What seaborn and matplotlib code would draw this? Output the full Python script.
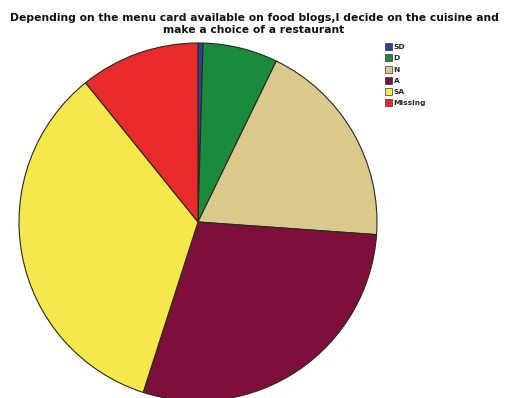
import matplotlib
matplotlib.use("Agg")
import matplotlib.pyplot as plt
import seaborn as sns
from matplotlib.patches import Patch

sns.set_theme(style="white")
plt.rcParams["font.family"] = ["DejaVu Sans"]

# Response counts per answer category
categories = ["SD", "D", "N", "A", "SA", "Missing"]
counts = [1, 15, 42, 64, 76, 24]
colors = ["#2a3f9e", "#1b8a3c", "#d9c98c", "#7d0f3a", "#f4e84c", "#e82a2a"]

title = ("Depending on the menu card available on food blogs,I decide on the cuisine and\n"
         "make a choice of a restaurant")

W, H = 508, 398
fig = plt.figure(figsize=(W / 100, H / 100), dpi=100)
fig.patch.set_facecolor("white")

# Pie centred at (198, 222) px with radius ~179 px
cx, cy, r = 198, 222, 179
ax = fig.add_axes([(cx - r) / W, (H - cy - r) / H, 2 * r / W, 2 * r / H])
ax.pie(counts, colors=colors, startangle=90, counterclock=False,
       wedgeprops=dict(edgecolor="#2a2a1a", linewidth=0.8), radius=1.0)
ax.set_xlim(-1, 1)
ax.set_ylim(-1, 1)
ax.set_aspect("equal")
ax.axis("off")

fig.text(0.5, 1 - 13 / H, title, ha="center", va="top", fontsize=7.75,
         fontweight="bold", linespacing=1.3, color="#111111")

handles = [Patch(facecolor=c, edgecolor="#333333", linewidth=0.5) for c in colors]
leg = fig.legend(handles, categories, loc="upper left",
                 bbox_to_anchor=(380 / W, 1 - 38 / H), frameon=False,
                 prop=dict(size=5.4, weight="bold"), handlelength=0.9,
                 handleheight=1.05, handletextpad=0.2, labelspacing=0.55,
                 borderpad=0.2)

fig.savefig("out.png", dpi=100, facecolor="white")
